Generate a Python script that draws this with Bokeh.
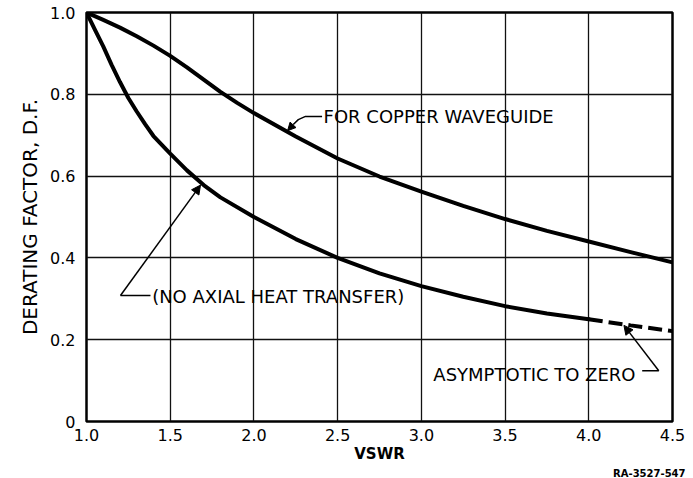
from bokeh.plotting import figure
from bokeh.models import Range1d, FixedTicker, Label, Arrow, NormalHead, Title
from bokeh.embed import file_html
from bokeh.resources import INLINE

# ---- data ----
vswr_copper = [1.0, 1.1, 1.2, 1.3, 1.4, 1.5, 1.6, 1.7, 1.8, 1.9, 2.0, 2.25, 2.5, 2.75,
               3.0, 3.25, 3.5, 3.75, 4.0, 4.25, 4.5]
df_copper = [1.0, 0.982, 0.963, 0.942, 0.919, 0.894, 0.866, 0.836, 0.806, 0.779, 0.754,
             0.697, 0.643, 0.599, 0.562, 0.527, 0.495, 0.466, 0.440, 0.414, 0.389]

vswr_noaxial = [1.0, 1.05, 1.1, 1.15, 1.2, 1.25, 1.3, 1.35, 1.4, 1.5, 1.6, 1.7, 1.8, 2.0,
                2.25, 2.5, 2.75, 3.0, 3.25, 3.5, 3.75, 4.0]
df_noaxial = [1.0, 0.958, 0.917, 0.872, 0.830, 0.791, 0.758, 0.727, 0.698, 0.655, 0.614,
              0.578, 0.548, 0.500, 0.446, 0.400, 0.362, 0.331, 0.305, 0.282, 0.264, 0.250]

vswr_asym = [4.0, 4.25, 4.5]
df_asym = [0.250, 0.235, 0.221]

x_ticks = [1.0, 1.5, 2.0, 2.5, 3.0, 3.5, 4.0, 4.5]
x_tick_labels = ["1.0", "1.5", "2.0", "2.5", "3.0", "3.5", "4.0", "4.5"]
y_ticks = [0.0, 0.2, 0.4, 0.6, 0.8, 1.0]
y_tick_labels = ["0", "0.2", "0.4", "0.6", "0.8", "1.0"]

FONT = "DejaVu Sans"

p = figure(width=693, height=478, output_backend="svg", toolbar_location=None,
           x_range=Range1d(1.0, 4.5), y_range=Range1d(0.0, 1.0),
           min_border_left=86, min_border_right=21, min_border_top=12, min_border_bottom=55)

p.background_fill_color = "white"
p.border_fill_color = "white"
p.outline_line_color = "black"
p.outline_line_width = 2.5

for ax in (p.xaxis[0], p.yaxis[0]):
    ax.axis_line_color = None
    ax.major_tick_line_color = None
    ax.minor_tick_line_color = None
    ax.major_tick_out = 0
    ax.major_tick_in = 0
    ax.minor_tick_out = 0
    ax.minor_tick_in = 0
    ax.major_label_text_font = FONT
    ax.major_label_text_font_size = "16px"
    ax.major_label_text_color = "black"
    ax.axis_label_text_font = FONT
    ax.axis_label_text_color = "black"
    ax.axis_label_text_font_style = "normal"

p.xaxis.ticker = FixedTicker(ticks=x_ticks)
p.xaxis.major_label_overrides = {t: l for t, l in zip(x_ticks, x_tick_labels)}
p.yaxis.ticker = FixedTicker(ticks=y_ticks)
p.yaxis.major_label_overrides = {t: l for t, l in zip(y_ticks, y_tick_labels)}

p.xaxis.axis_label = "VSWR"
p.xaxis.axis_label_text_font_size = "15px"
p.xaxis.axis_label_text_font_style = "bold"
p.xaxis.major_label_standoff = 7
p.xaxis.axis_label_standoff = 1

p.yaxis.axis_label = "DERATING FACTOR, D.F."
p.yaxis.axis_label_text_font_size = "20px"
p.yaxis.major_label_standoff = 11
p.yaxis.axis_label_standoff = 5

p.xgrid.grid_line_color = "#111111"
p.xgrid.grid_line_width = 1.3
p.ygrid.grid_line_color = "#111111"
p.ygrid.grid_line_width = 1.3

# drawing number below the chart, right-aligned
p.add_layout(Title(text="RA-3527-547", align="right", text_font=FONT, text_font_size="10px",
                   text_font_style="bold", text_color="black", standoff=0, offset=-13), "below")

# curves
p.line(vswr_copper, df_copper, line_color="black", line_width=4, line_join="round", line_cap="round")
p.line(vswr_noaxial, df_noaxial, line_color="black", line_width=4, line_join="round", line_cap="round")
p.line(vswr_asym, df_asym, line_color="black", line_width=4, line_dash="14 6")

# annotation texts
ann_font_size = "18px"
p.add_layout(Label(x=2.416, y=0.746, text="FOR COPPER  WAVEGUIDE", text_font=FONT, text_color="black",
                   text_font_size=ann_font_size, text_align="left", text_baseline="middle"))
p.add_layout(Label(x=1.392, y=0.306, text="(NO AXIAL HEAT TRANSFER)", text_font=FONT, text_color="black",
                   text_font_size=ann_font_size, text_align="left", text_baseline="middle"))
p.add_layout(Label(x=4.279, y=0.116, text="ASYMPTOTIC TO ZERO", text_font=FONT, text_color="black",
                   text_font_size=ann_font_size, text_align="right", text_baseline="middle"))

# leader lines
lead_copper_x = [2.407, 2.308, 2.265, 2.235]
lead_copper_y = [0.746, 0.746, 0.738, 0.726]
p.line(lead_copper_x, lead_copper_y, line_color="black", line_width=1.5)
p.add_layout(Arrow(end=NormalHead(size=8, fill_color="black", line_color="black"),
                   x_start=2.235, y_start=0.726, x_end=2.201, y_end=0.711,
                   line_color="black", line_width=1.5))

lead_noax_x = [1.382, 1.203]
lead_noax_y = [0.308, 0.308]
p.line(lead_noax_x, lead_noax_y, line_color="black", line_width=1.5)
p.add_layout(Arrow(end=NormalHead(size=9, fill_color="black", line_color="black"),
                   x_start=1.203, y_start=0.308, x_end=1.681, y_end=0.578,
                   line_color="black", line_width=1.5))

lead_asym_x = [4.319, 4.418]
lead_asym_y = [0.124, 0.124]
p.line(lead_asym_x, lead_asym_y, line_color="black", line_width=1.5)
p.add_layout(Arrow(end=NormalHead(size=9, fill_color="black", line_color="black"),
                   x_start=4.418, y_start=0.124, x_end=4.210, y_end=0.235,
                   line_color="black", line_width=1.5))

open("out.html", "w").write(file_html(p, INLINE))
